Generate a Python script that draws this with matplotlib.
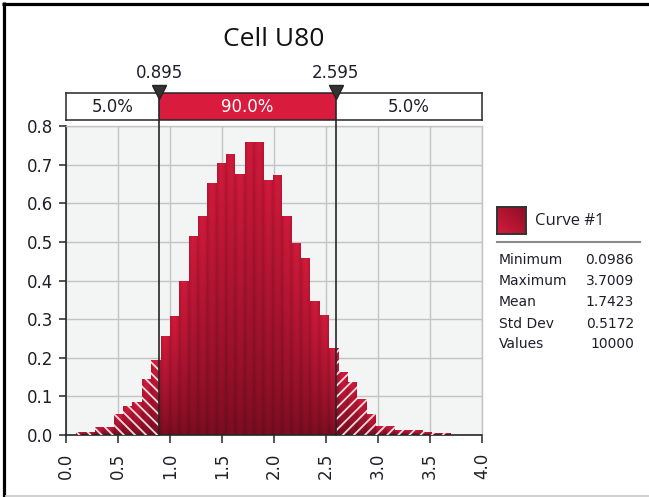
import numpy as np
import matplotlib
matplotlib.use('Agg')
import matplotlib.pyplot as plt
from matplotlib.patches import Rectangle, PathPatch
from matplotlib.path import Path
from matplotlib.lines import Line2D
from matplotlib.transforms import blended_transform_factory

# ---------------- data ----------------
title = 'Cell U80'
data_min = 0.0986
data_max = 3.7009
n_bins = 40
heights = [0.008, 0.008, 0.021, 0.021, 0.054, 0.075, 0.086, 0.144, 0.193, 0.257,
           0.309, 0.400, 0.514, 0.566, 0.652, 0.703, 0.727, 0.675, 0.759, 0.759,
           0.660, 0.674, 0.566, 0.498, 0.457, 0.348, 0.310, 0.224, 0.164, 0.136,
           0.092, 0.054, 0.023, 0.023, 0.013, 0.013, 0.013, 0.008, 0.004, 0.004]
lower_cut = 0.895
upper_cut = 2.595
cut_labels = ['0.895', '2.595']
band_labels = ['5.0%', '90.0%', '5.0%']
x_ticks = [0.0, 0.5, 1.0, 1.5, 2.0, 2.5, 3.0, 3.5, 4.0]
y_ticks = [0.0, 0.1, 0.2, 0.3, 0.4, 0.5, 0.6, 0.7, 0.8]
legend_name = 'Curve #1'
stat_names = ['Minimum', 'Maximum', 'Mean', 'Std Dev', 'Values']
stat_values = ['0.0986', '3.7009', '1.7423', '0.5172', '10000']

# ---------------- style ----------------
plt.rcParams['font.family'] = ['DejaVu Sans']
plt.rcParams['hatch.linewidth'] = 1.3
TXT = '#1f1f2a'
DARK = '#262626'
CRIMSON = '#d91b3e'
GRID = '#c3c3c3'

W, H = 649, 497
fig = plt.figure(figsize=(W / 100, H / 100), dpi=100)


def fx(px):
    return px / W


def fy(py):
    return 1 - py / H


# ---------------- main axes ----------------
ax = fig.add_axes([fx(66), fy(435), fx(482) - fx(66), fy(126) - fy(435)])
ax.set_facecolor('#f3f4f4')
ax.grid(True, color=GRID, lw=1.0)
ax.set_axisbelow(True)

edges = np.linspace(data_min, data_max, n_bins + 1)
w = edges[1] - edges[0]
bars = ax.bar(edges[:-1], heights, width=w, align='edge', facecolor='none',
              edgecolor='none', linewidth=0, zorder=2)
paths = [b.get_path().transformed(b.get_patch_transform()) for b in bars]
clip = PathPatch(Path.make_compound_path(*paths), transform=ax.transData,
                 facecolor='none', edgecolor='none')
ax.add_patch(clip)

nx, ny = 2000, 800
xs = np.linspace(0, 4, nx)
ys = np.linspace(0, 0.8, ny)
pos = (xs - data_min) / w
idx = np.clip(np.floor(pos).astype(int), 0, n_bins - 1)
hh = np.array(heights)[idx]
frac = pos - np.floor(pos)
t = np.clip(ys[:, None] / np.maximum(hh[None, :], 1e-6), 0, 1)
dark = np.array([0.48, 0.05, 0.13])
bright = np.array([0.82, 0.10, 0.23])
img = dark + (bright - dark) * (t[..., None] ** 0.8)
shade = 0.82 + 0.18 * np.sin(np.pi * frac) ** 0.6
img = np.clip(img * shade[None, :, None], 0, 1)
im = ax.imshow(img, extent=[0, 4, 0, 0.8], origin='lower', aspect='auto',
               zorder=2, interpolation='bilinear')
im.set_clip_path(clip)

# hatched tails
lx, lw_, lh, rx, rw, rh = [], [], [], [], [], []
for k in range(n_bins):
    a, b = edges[k], edges[k + 1]
    if a < lower_cut:
        r = min(b, lower_cut)
        lx.append(a); lw_.append(r - a); lh.append(heights[k])
    if b > upper_cut:
        l = max(a, upper_cut)
        rx.append(l); rw.append(b - l); rh.append(heights[k])
ax.bar(lx, lh, width=lw_, align='edge', facecolor='none', edgecolor=(1, 1, 1, 0.85),
       hatch='\\\\\\', linewidth=0, zorder=3)
ax.bar(rx, rh, width=rw, align='edge', facecolor='none', edgecolor=(1, 1, 1, 0.85),
       hatch='///', linewidth=0, zorder=3)

ax.set_xlim(0, 4)
ax.set_ylim(0, 0.8)
ax.set_xticks(x_ticks)
ax.set_xticklabels([f'{v:.1f}' for v in x_ticks], rotation=90)
ax.set_yticks(y_ticks)
ax.set_yticklabels([f'{v:.1f}' for v in y_ticks])
ax.tick_params(axis='y', length=5, width=1.1, pad=4.5, color=DARK,
               labelsize=12, labelcolor=TXT)
ax.tick_params(axis='x', length=5.5, width=1.1, pad=7, color=DARK,
               labelsize=12, labelcolor=TXT)
for s in ['left', 'bottom']:
    ax.spines[s].set_color(DARK)
    ax.spines[s].set_linewidth(1.2)
for s in ['top', 'right']:
    ax.spines[s].set_color(GRID)
    ax.spines[s].set_linewidth(1.0)

# ---------------- band ----------------
bax = fig.add_axes([fx(66), fy(120), fx(482) - fx(66), fy(93) - fy(120)])
bax.set_xlim(0, 4)
bax.set_ylim(0, 1)
bax.set_xticks([])
bax.set_yticks([])
bax.set_facecolor('white')
bax.add_patch(Rectangle((lower_cut, 0), upper_cut - lower_cut, 1,
                        facecolor=CRIMSON, edgecolor='none'))
for s in bax.spines.values():
    s.set_color(DARK)
    s.set_linewidth(1.1)
bax.text(lower_cut / 2, 0.5, band_labels[0], ha='center', va='center',
         fontsize=12, color=TXT)
bax.text((lower_cut + upper_cut) / 2, 0.5, band_labels[1], ha='center',
         va='center', fontsize=12, color='white')
bax.text((upper_cut + 4) / 2, 0.5, band_labels[2], ha='center', va='center',
         fontsize=12, color=TXT)

# ---------------- delimiters ----------------
bt = blended_transform_factory(ax.transData, fig.transFigure)
for c, lab in zip([lower_cut, upper_cut], cut_labels):
    fig.add_artist(Line2D([c, c], [fy(435), fy(93)], transform=bt,
                          color=DARK, lw=1.2, zorder=5))
    fig.add_artist(Line2D([c], [fy(92.5)], transform=bt, marker='v', ms=10.5,
                          color='#333333', mec='#222222', ls='none', zorder=6))
    fig.text(c, fy(73), lab, transform=bt, ha='center', va='center',
             fontsize=12, color=TXT)

# ---------------- title ----------------
fig.text(fx(274), fy(40), title, ha='center', va='center', fontsize=19,
         family=['Open Sans', 'DejaVu Sans'], color='#111111')

# ---------------- legend ----------------
lax = fig.add_axes([fx(497), fy(234), fx(526) - fx(497), fy(207) - fy(234)])
gx, gy = np.meshgrid(np.linspace(0, 1, 40), np.linspace(0, 1, 40))
tt = (gx + (1 - gy)) / 2
sw = np.array([0.84, 0.11, 0.24]) * (1 - tt[..., None]) + np.array([0.55, 0.05, 0.14]) * tt[..., None]
lax.imshow(sw, extent=[0, 1, 0, 1], origin='upper', aspect='auto')
lax.set_xticks([])
lax.set_yticks([])
for s in lax.spines.values():
    s.set_color('#333333')
    s.set_linewidth(1.4)
fig.text(fx(535), fy(221), legend_name, ha='left', va='center', fontsize=12,
         family=['Open Sans', 'DejaVu Sans'], color=TXT)
fig.add_artist(Line2D([fx(497), fx(640)], [fy(242), fy(242)], color='#8a8a8a', lw=1.5))
row_y = [260, 281, 302, 323.5, 344.5]
for name, val, yy in zip(stat_names, stat_values, row_y):
    fig.text(fx(499), fy(yy), name, ha='left', va='center', fontsize=10, color=TXT)
    fig.text(fx(634), fy(yy), val, ha='right', va='center', fontsize=10, color=TXT)

# ---------------- frame ----------------
fig.add_artist(Line2D([fx(2), 1], [fy(3.5), fy(3.5)], color='black', lw=2.3,
                      solid_capstyle='butt'))
fig.add_artist(Line2D([fx(3.5), fx(3.5)], [0, fy(2)], color='black', lw=2.3,
                      solid_capstyle='butt'))
fig.add_artist(Line2D([fx(5), 1], [fy(496), fy(496)], color='#c8c8c8', lw=1.2,
                      solid_capstyle='butt'))

fig.savefig('out.png', dpi=100)
